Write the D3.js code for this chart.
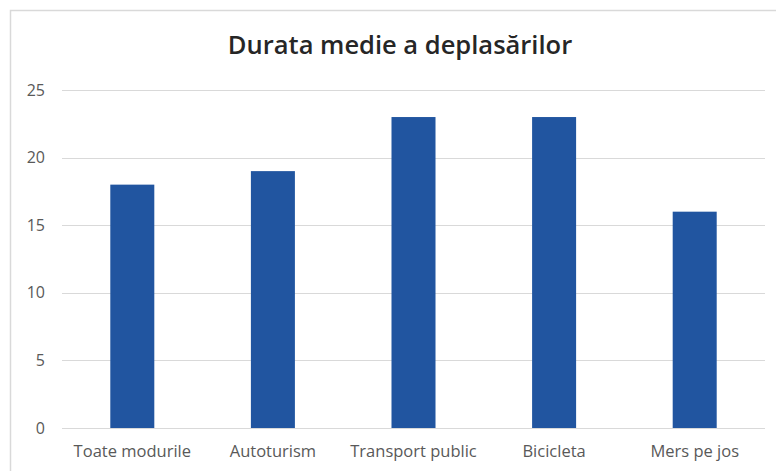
<!DOCTYPE html>
<html>
<head>
<meta charset="utf-8">
<script src="https://cdn.jsdelivr.net/npm/d3@7"></script>
<style>
  html, body { margin: 0; padding: 0; background: #fff; }
  svg { display: block; }
</style>
</head>
<body>
<svg id="chart" width="776" height="471"></svg>
<script>
// Average trip duration by mode of transport
const categories = ["Toate modurile", "Autoturism", "Transport public", "Bicicleta", "Mers pe jos"];
const durations = [18, 19, 23, 23, 16];
const yTicks = [0, 5, 10, 15, 20, 25];
const title = "Durata medie a deplasărilor";

const svg = d3.select("#chart");
const W = 776, H = 471;
const plot = { left: 62, right: 765, top: 90, bottom: 428 };
const font = "'Open Sans', 'Noto Sans', sans-serif";

// chart frame
svg.append("path")
  .attr("d", `M10.5,${H + 5} V10.5 H${W + 5}`)
  .attr("fill", "none")
  .attr("stroke", "#d9d9d9")
  .attr("stroke-width", 1.5);

const x = d3.scaleBand()
  .domain(categories)
  .range([plot.left, plot.right])
  .paddingInner(0.687)
  .paddingOuter(0.3435);

const y = d3.scaleLinear()
  .domain([0, 25])
  .range([plot.bottom, plot.top]);

// gridlines
svg.append("g")
  .selectAll("line")
  .data(yTicks)
  .join("line")
  .attr("x1", plot.left)
  .attr("x2", plot.right)
  .attr("y1", d => Math.round(y(d)) + 0.5)
  .attr("y2", d => Math.round(y(d)) + 0.5)
  .attr("stroke", "#d9d9d9")
  .attr("stroke-width", 1.2);

// y-axis labels
const yAxis = d3.axisLeft(y).tickValues(yTicks).tickSize(0).tickPadding(0);
const gy = svg.append("g").attr("transform", "translate(45,0)").call(yAxis);
gy.select(".domain").remove();
gy.selectAll("text")
  .attr("fill", "#595959")
  .style("font-family", font)
  .style("font-size", "16px");

// bars
svg.append("g")
  .selectAll("rect")
  .data(categories)
  .join("rect")
  .attr("x", d => x(d))
  .attr("width", x.bandwidth())
  .attr("y", (d, i) => y(durations[i]))
  .attr("height", (d, i) => y(0) - y(durations[i]))
  .attr("fill", "#2155a0");

// x-axis labels
const xAxis = d3.axisBottom(x).tickSize(0).tickPadding(0);
const gx = svg.append("g").attr("transform", `translate(0,${plot.bottom + 17})`).call(xAxis);
gx.select(".domain").remove();
gx.selectAll("text")
  .attr("fill", "#595959")
  .attr("dy", "0.71em")
  .style("font-family", font)
  .style("font-size", "16.5px");

// title
svg.append("text")
  .attr("x", 400)
  .attr("y", 47)
  .attr("text-anchor", "middle")
  .attr("dominant-baseline", "middle")
  .attr("fill", "#262626")
  .style("font-family", font)
  .style("font-weight", "600")
  .style("font-size", "25.5px")
  .text(title);
</script>
</body>
</html>
